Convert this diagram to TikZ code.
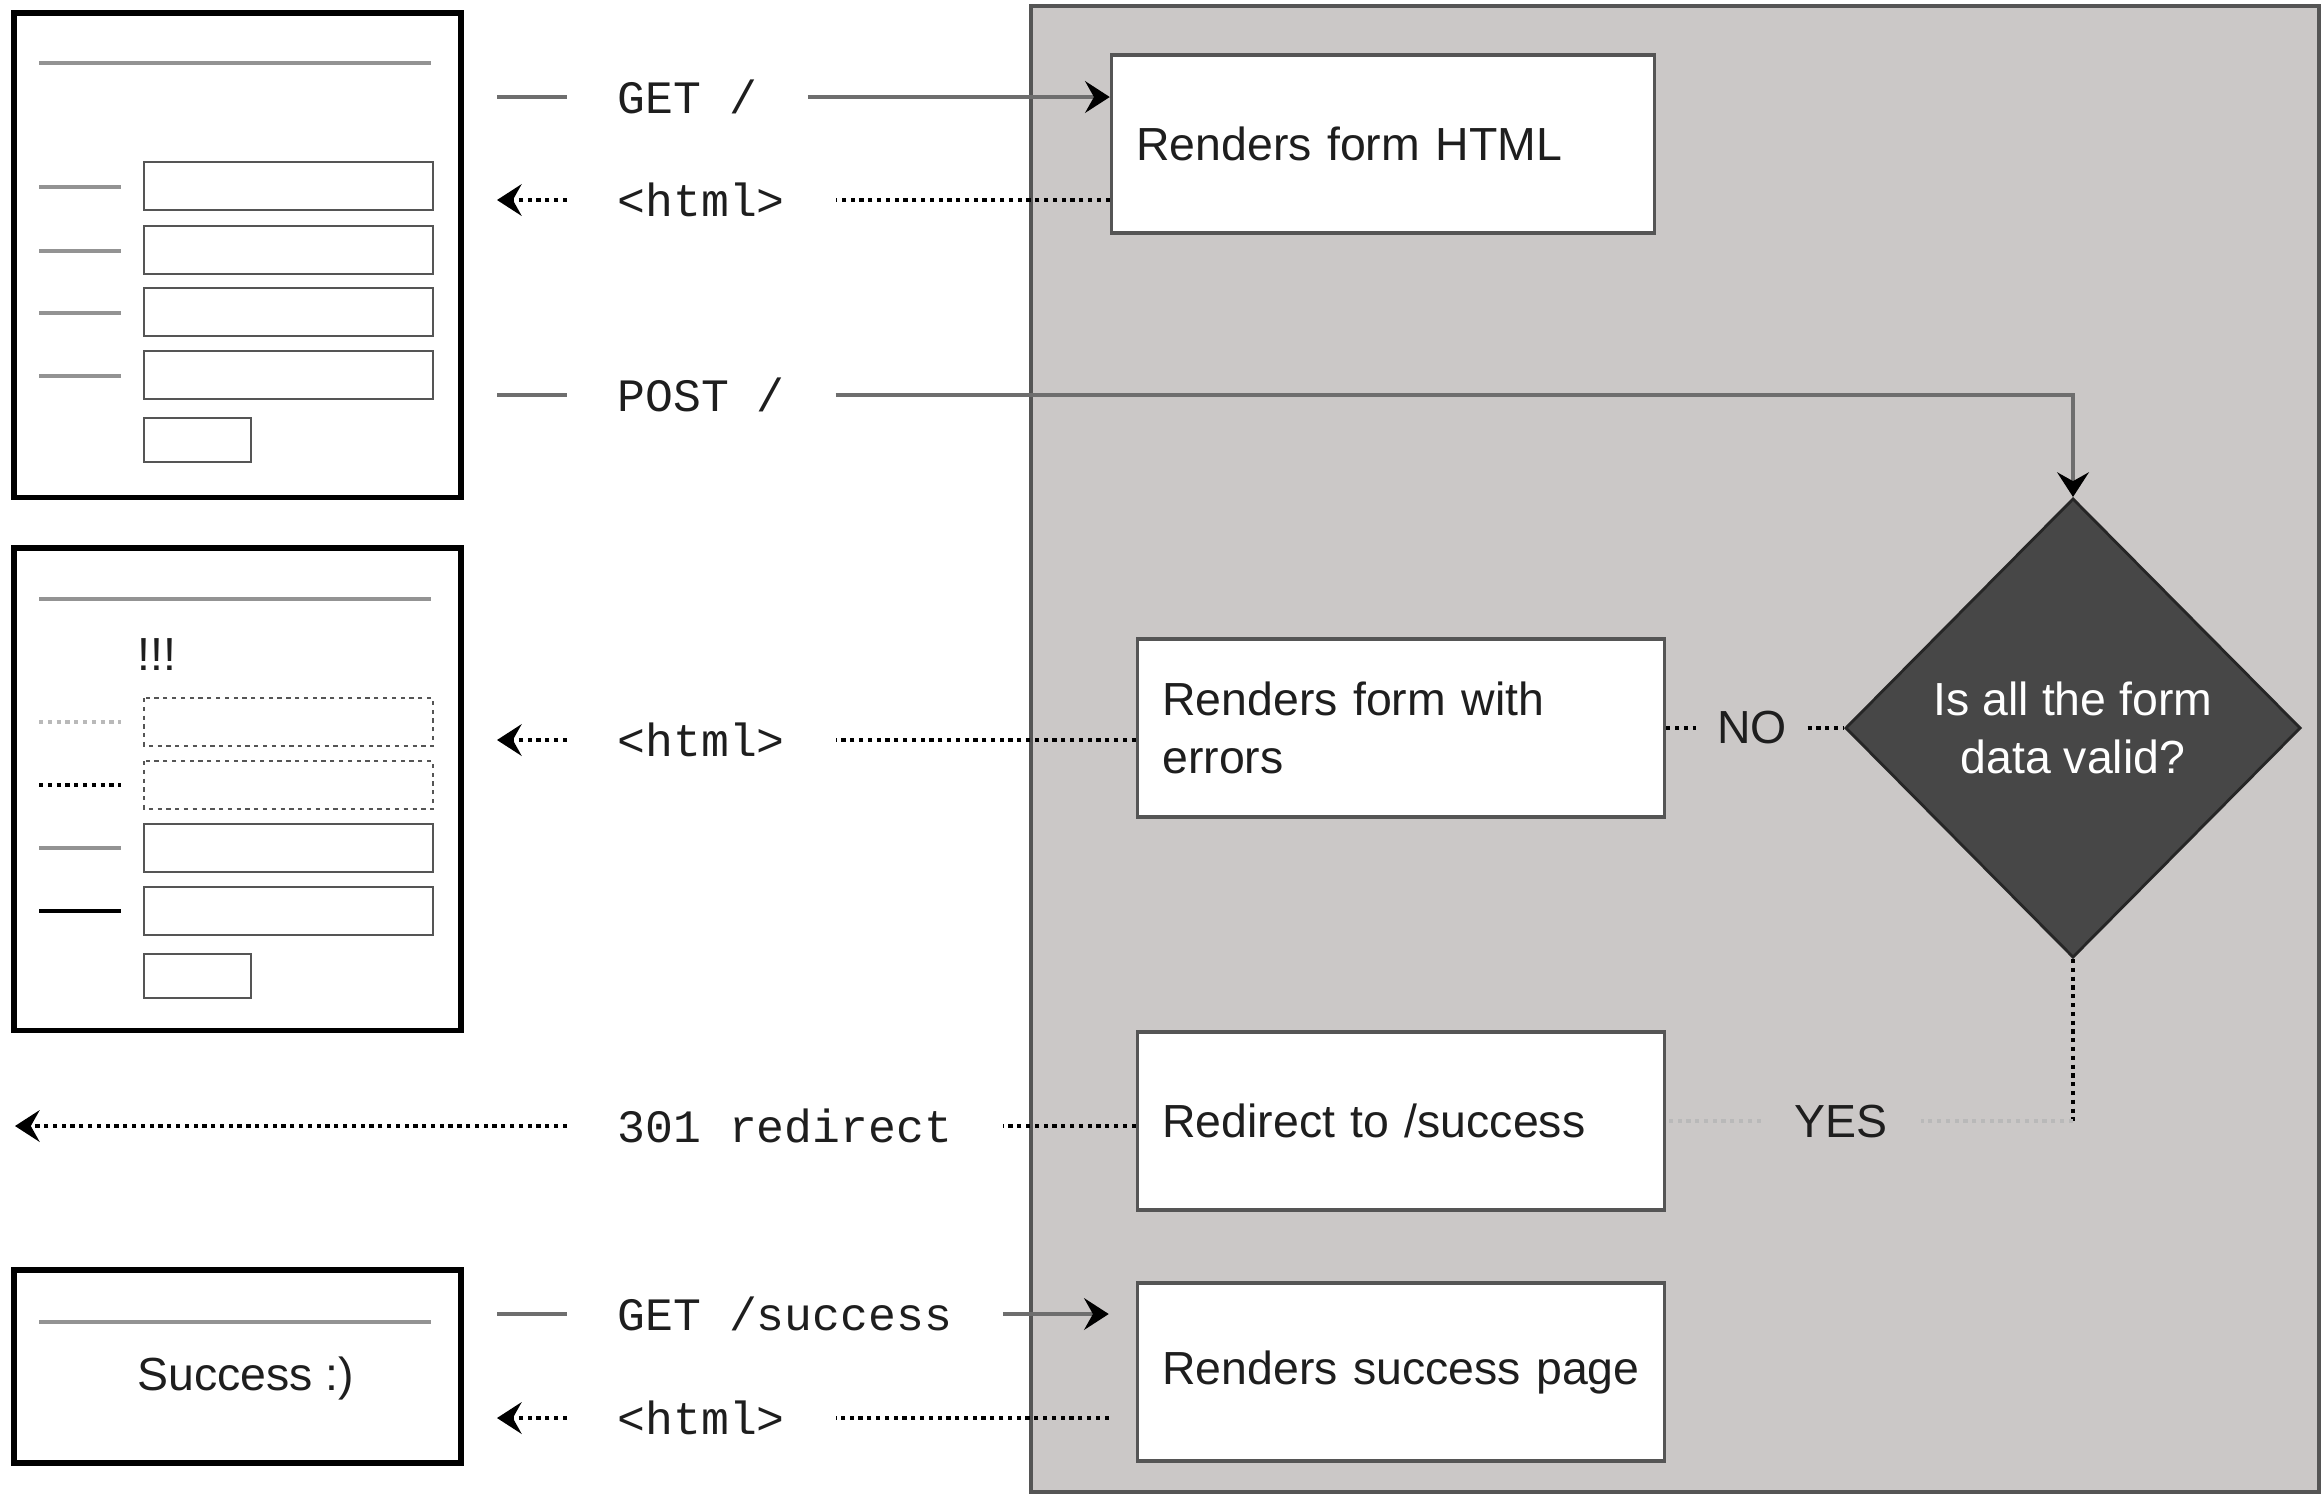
\documentclass[tikz,border=0pt]{standalone}
\usepackage{fontspec}
\setmainfont{Liberation Sans}
\setmonofont{Liberation Mono}
\usetikzlibrary{arrows.meta,shapes.geometric,positioning}

\definecolor{panelgray}{HTML}{CBC8C7}
\definecolor{darkfill}{HTML}{474747}
\definecolor{linegray}{HTML}{6E6E6E}
\definecolor{edgegray}{HTML}{555555}
\definecolor{textblack}{HTML}{1E1E1E}

\tikzset{
  httptip/.tip={Stealth[length=7pt,width=9pt,inset=2.5pt,color=black]},
}

\begin{document}
\begin{tikzpicture}[x=0.01cm,y=-0.01cm,
    every node/.style={font=\fontsize{13.2}{16.6}\selectfont,text=textblack},
    stepbox/.style={draw=edgegray,line width=0.9pt,fill=white,minimum height=1.78cm,
      minimum width=5.27cm,text width=4.77cm,inner xsep=0.25cm,align=left},
    decision/.style={diamond,draw=black!85,line width=0.8pt,fill=darkfill,text=white,
      minimum width=4.55cm,minimum height=4.59cm,inner sep=0pt,align=center},
    browser/.style={draw=black,line width=1.5pt,minimum width=4.47cm,inner sep=0pt},
    field/.style={draw=edgegray,line width=0.8pt},
    headline/.style={draw=gray!85,line width=1.3pt},
    msg/.style={font=\ttfamily\fontsize{13.2}{16.6}\selectfont,anchor=west,inner xsep=0.5cm},
    reqline/.style={draw=linegray,line width=1pt},
    resline/.style={draw=black,line width=0.9pt,dash pattern=on 1.2pt off 1.3pt},
    yesline/.style={draw=gray!55,line width=0.9pt,dash pattern=on 1.2pt off 1.3pt}]

  \useasboundingbox (0,0) rectangle (2324,1496);

  % server side
  \filldraw[fill=panelgray,draw=edgegray,line width=1pt] (1031,6) rectangle (2319,1492);

  \node[stepbox,minimum width=5.43cm,text width=4.93cm] (htmlbox) at (1383,144) {Renders form HTML};
  \node[stepbox] (errbox) at (1401,728) {Renders form with\\errors};
  \node[stepbox] (redirbox) at (1401,1121) {Redirect to /success};
  \node[stepbox] (succbox) at (1401,1372) {\mbox{Renders success page}};
  \node[decision] (valid) at (2073,728) {Is all the form\\data valid?};

  % browser pages
  \node[browser,minimum height=4.84cm] (formpage) at (237.5,255) {};
  \draw[headline] (39,63) -- (431,63);
  \foreach \y in {162,226,288,351}{%
      \draw[headline,line width=1pt] (39,\y+25) -- (121,\y+25);
      \draw[field] (144,\y) rectangle (433,\y+48);
    }
  \draw[field] (144,418) rectangle (251,462);

  \node[browser,minimum height=4.82cm] (errpage) at (237.5,789) {};
  \draw[headline] (39,599) -- (431,599);
  \node[inner sep=0pt] (bang) at (157,655) {!!!};
  \draw[yesline] (39,722) -- (121,722);
  \draw[field,dash pattern=on 1.2pt off 1.3pt] (144,698) rectangle (433,746);
  \draw[resline] (39,785) -- (121,785);
  \draw[field,dash pattern=on 1.2pt off 1.3pt] (144,761) rectangle (433,809);
  \draw[headline,line width=1pt] (39,848) -- (121,848);
  \draw[field] (144,824) rectangle (433,872);
  \draw[black,line width=1pt] (39,911) -- (121,911);
  \draw[field] (144,887) rectangle (433,935);
  \draw[field] (144,954) rectangle (251,998);

  \node[browser,minimum height=1.93cm] (donepage) at (237.5,1366.5) {};
  \draw[headline] (39,1322) -- (431,1322);
  \node (donetext) at (246,1378) {Success :)};

  % messages
  \node[msg] (get1) at (567,97) {GET /};
  \node[msg] (html1) at (567,200) {<html>};
  \node[msg] (post) at (567,395) {POST /};
  \node[msg] (html2) at (567,740) {<html>};
  \node[msg] (redir) at (567,1126) {301 redirect};
  \node[msg] (getok) at (567,1314) {GET /success};
  \node[msg] (html3) at (567,1418) {<html>};
  \node[inner xsep=0.2cm] (no) at (1752,728) {NO};
  \node[inner xsep=0.33cm] (yes) at (1841,1121) {YES};

  \coordinate (getstub) at (497,97);
  \coordinate (html1tip) at (497,200);
  \coordinate (poststub) at (497,395);
  \coordinate (html2tip) at (497,740);
  \coordinate (redirtip) at (15,1126);
  \coordinate (getokstub) at (497,1314);
  \coordinate (html3tip) at (497,1418);
  \coordinate (yescorner) at (valid.south |- yes);

  \draw[reqline] (getstub) -- (get1.west);
  \draw[reqline,-httptip] (get1.east) -- (get1.east -| htmlbox.west);
  \draw[resline] (htmlbox.west |- html1) -- (html1.east);
  \draw[resline,-httptip] (html1.west) -- (html1tip);

  \draw[reqline] (poststub) -- (post.west);
  \draw[reqline,-httptip] (post.east) -| (valid.north);

  \draw[resline] (errbox.east) -- (no.west);
  \draw[resline] (no.east) -- (valid.west);
  \draw[resline] (errbox.west |- html2) -- (html2.east);
  \draw[resline,-httptip] (html2.west) -- (html2tip);

  \draw[resline] (valid.south) -- (yescorner);
  \draw[yesline] (yescorner) -- (yes.east);
  \draw[yesline] (yes.west) -- (redirbox.east |- yes);
  \draw[resline] (redirbox.west |- redir) -- (redir.east);
  \draw[resline,-httptip] (redir.west) -- (redirtip);

  \draw[reqline] (getokstub) -- (getok.west);
  \draw[reqline,-httptip,shorten >=0.27cm] (getok.east) -- (getok.east -| succbox.west);
  \draw[resline,shorten <=0.27cm] (succbox.west |- html3) -- (html3.east);
  \draw[resline,-httptip] (html3.west) -- (html3tip);
\end{tikzpicture}
\end{document}
